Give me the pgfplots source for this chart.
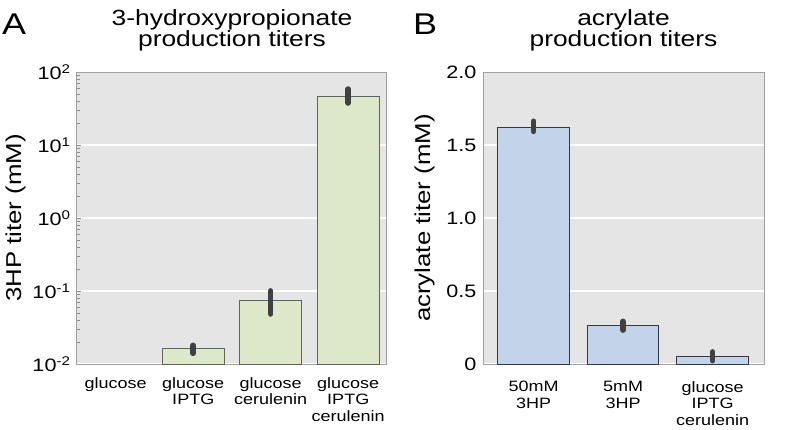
\documentclass[border=0pt]{standalone}
\usepackage{fontspec}
\setmainfont{Liberation Sans}[FakeStretch=1.2]
\usepackage{pgfplots}
\pgfplotsset{compat=1.18}
\definecolor{bggray}{HTML}{E5E5E5}
\definecolor{spine}{HTML}{A0A0A0}
\definecolor{tickgray}{HTML}{8C8C8C}
\definecolor{greenbar}{HTML}{DDE7C9}
\definecolor{greenedge}{HTML}{5F6659}
\definecolor{bluebar}{HTML}{C3D3EA}
\definecolor{blueedge}{HTML}{333842}
\definecolor{errgray}{HTML}{404040}

\pgfplotsset{
  panel/.style={
    scale only axis, height=292pt,
    axis background/.style={fill=bggray},
    axis line style={draw=spine, line width=1pt},
    ymajorgrids, major grid style={white, line width=1.5pt},
    ybar, bar width=0.8,
    xtick style={draw=none},
    tick label style={font=\fontsize{18}{18}\selectfont},
    yticklabel style={xshift=-3pt},
    xticklabel style={align=center, inner sep=0pt, yshift=-13pt,
      font=\fontsize{15}{16.5}\selectfont},
    title style={at={(0.5,1)}, anchor=south, yshift=14.5pt, inner sep=0pt,
      align=center, font=\fontsize{22}{20}\selectfont},
    ylabel style={anchor=base, font=\fontsize{21.5}{21.5}\selectfont},
  },
  errs/.style={error bars/.cd, y dir=both, y explicit, error mark=none,
    error bar style={line width=5.5pt, line cap=round, draw=errgray}},
}

\begin{document}
\begin{tikzpicture}
% panel A: 3HP, log scale
\begin{axis}[panel,
  at={(0pt,0pt)}, anchor=south west, width=310pt,
  ymode=log, log origin=infty,
  ymin=0.01, ymax=100,
  xmin=-0.5, xmax=3.5,
  xtick={0,1,2,3},
  xticklabels={glucose, glucose\\IPTG, glucose\\cerulenin, glucose\\IPTG\\cerulenin},
  ytick={0.01,0.1,1,10,100},
  yticklabels={10\textsuperscript{-2},10\textsuperscript{-1},10\textsuperscript{0},10\textsuperscript{1},10\textsuperscript{2}},
  minor ytick={0.02,0.03,0.04,0.05,0.06,0.07,0.08,0.09,0.2,0.3,0.4,0.5,0.6,0.7,0.8,0.9,2,3,4,5,6,7,8,9,20,30,40,50,60,70,80,90},
  ytick pos=left, tick align=inside,
  major tick length=4.5pt, minor tick length=3.5pt,
  ytick style={draw=tickgray, line width=0.8pt},
  title={3-hydroxypropionate\\production titers},
  ylabel={3HP titer (mM)},
  ylabel style={at={(axis description cs:-0.1806,0.5)}},
]
\addplot[fill=greenbar, draw=greenedge, line width=0.9pt, errs]
  table[x=x, y=y, y error plus=ep, y error minus=em] {
x y ep em
1 0.0162 0.0018 0.0022
2 0.0754 0.025 0.027
3 46.9 11.6 9.3
};
\end{axis}

% panel B: acrylate, linear scale
\begin{axis}[panel,
  at={(406pt,0pt)}, anchor=south west, width=281pt,
  ymin=0, ymax=2,
  xmin=-0.565, xmax=2.575,
  xtick={0,1,2},
  xticklabels={50mM\\3HP, 5mM\\3HP, glucose\\IPTG\\cerulenin},
  ytick={0,0.5,1,1.5,2},
  yticklabels={0,0.5,1.0,1.5,2.0},
  ytick style={draw=none},
  title={acrylate\\production titers},
  ylabel={acrylate titer (mM)},
  ylabel style={at={(axis description cs:-0.1886,0.5)}},
]
\addplot[fill=bluebar, draw=blueedge, line width=0.9pt, errs]
  table[x=x, y=y, y error plus=ep, y error minus=em] {
x y ep em
0 1.623 0.04 0.03
1 0.265 0.027 0.033
2 0.053 0.03 0.03
};
\end{axis}

\node[anchor=base west, inner sep=0pt, font=\fontsize{30}{30}\selectfont] at (-75pt,329pt) {A};
\node[anchor=base west, inner sep=0pt, font=\fontsize{30}{30}\selectfont] at (336pt,329pt) {B};
\path (-77pt,-65pt) rectangle (719pt,364pt);
\end{tikzpicture}
\end{document}
